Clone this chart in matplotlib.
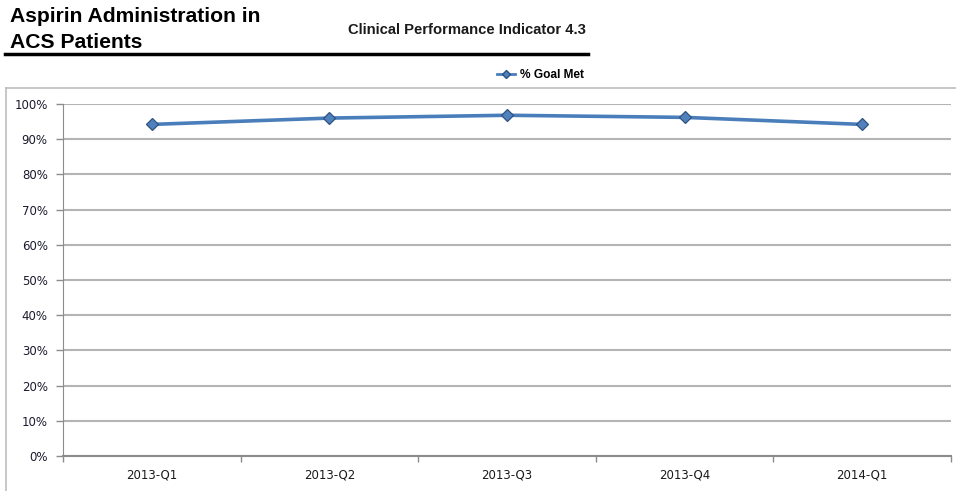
import matplotlib
matplotlib.use("Agg")
import matplotlib.pyplot as plt
from matplotlib.lines import Line2D
import numpy as np

categories = ["2013-Q1", "2013-Q2", "2013-Q3", "2013-Q4", "2014-Q1"]
goal_met = [94.2, 96.0, 96.8, 96.2, 94.2]
yticks = [0, 10, 20, 30, 40, 50, 60, 70, 80, 90, 100]
ytick_labels = [f"{v}%" for v in yticks]

W, H = 956, 491
fig = plt.figure(figsize=(W / 100, H / 100), dpi=100)

ax = fig.add_axes([63 / W, 1 - 456 / H, (951 - 63) / W, (456 - 104) / H])
x = np.arange(len(categories))
line_c = "#4a7ebb"
ax.plot(x, goal_met, color=line_c, lw=2.6, marker="D", ms=6.5,
        markerfacecolor="#4f81bd", markeredgecolor="#2f5280", markeredgewidth=0.9,
        zorder=3)
ax.set_xlim(-0.5, len(categories) - 0.5)
ax.set_ylim(0, 100)
ax.set_yticks(yticks)
ax.set_yticklabels(ytick_labels)
ax.set_xticks(x)
ax.set_xticklabels(categories)
ax.set_xticks(np.arange(-0.5, len(categories), 1.0), minor=True)
ax.tick_params(axis="x", which="major", length=0, pad=9, labelsize=8.5, labelcolor="#1a1a1a")
ax.tick_params(axis="x", which="minor", length=4, width=1, color="#8c8c8c", direction="out")
ax.tick_params(axis="y", length=5, width=1, color="#8c8c8c", direction="out", pad=6,
               labelsize=8.5, labelcolor="#1a1a2e")
for lab in ax.get_yticklabels() + ax.get_xticklabels():
    lab.set_fontfamily("DejaVu Sans")
ax.grid(axis="y", color="#b4b4b4", lw=1.5)
ax.set_axisbelow(True)
for s in ["top", "right"]:
    ax.spines[s].set_visible(False)
ax.spines["left"].set_color("#8c8c8c")
ax.spines["bottom"].set_color("#8c8c8c")
ax.spines["bottom"].set_linewidth(1.5)

# Outer frame (top and left)
fig.add_artist(Line2D([6 / W, 1.0], [1 - 88 / H, 1 - 88 / H], color="#bdbdbd", lw=1.2))
fig.add_artist(Line2D([6 / W, 6 / W], [1 - 88 / H, 0], color="#bdbdbd", lw=1.2))

# Title
fig.text(10 / W, 1 - 16 / H, "Aspirin Administration in", ha="left", va="center",
         fontsize=15.2, fontweight="bold", family="Liberation Sans")
fig.text(10 / W, 1 - 42 / H, "ACS Patients", ha="left", va="center",
         fontsize=15.2, fontweight="bold", family="Liberation Sans")
fig.text(586 / W, 1 - 30 / H, "Clinical Performance Indicator 4.3", ha="right", va="center",
         fontsize=10.6, fontweight="bold", family="Liberation Sans", color="#1a1a1a")
fig.add_artist(Line2D([5 / W, 588 / W], [1 - 54 / H, 1 - 54 / H], color="black", lw=2.5))

# Legend
leg_handle = Line2D([], [], color=line_c, lw=2, marker="D", ms=4.5,
                    markerfacecolor="#4f81bd", markeredgecolor="#2f5280")
fig.legend([leg_handle], ["% Goal Met"], loc="center right", bbox_to_anchor=(590 / W, 1 - 75 / H),
           frameon=False, handlelength=1.5, handletextpad=0.4, borderpad=0,
           prop={"family": "Liberation Sans", "size": 8.6, "weight": "bold"})

fig.savefig("out.png", dpi=100)
